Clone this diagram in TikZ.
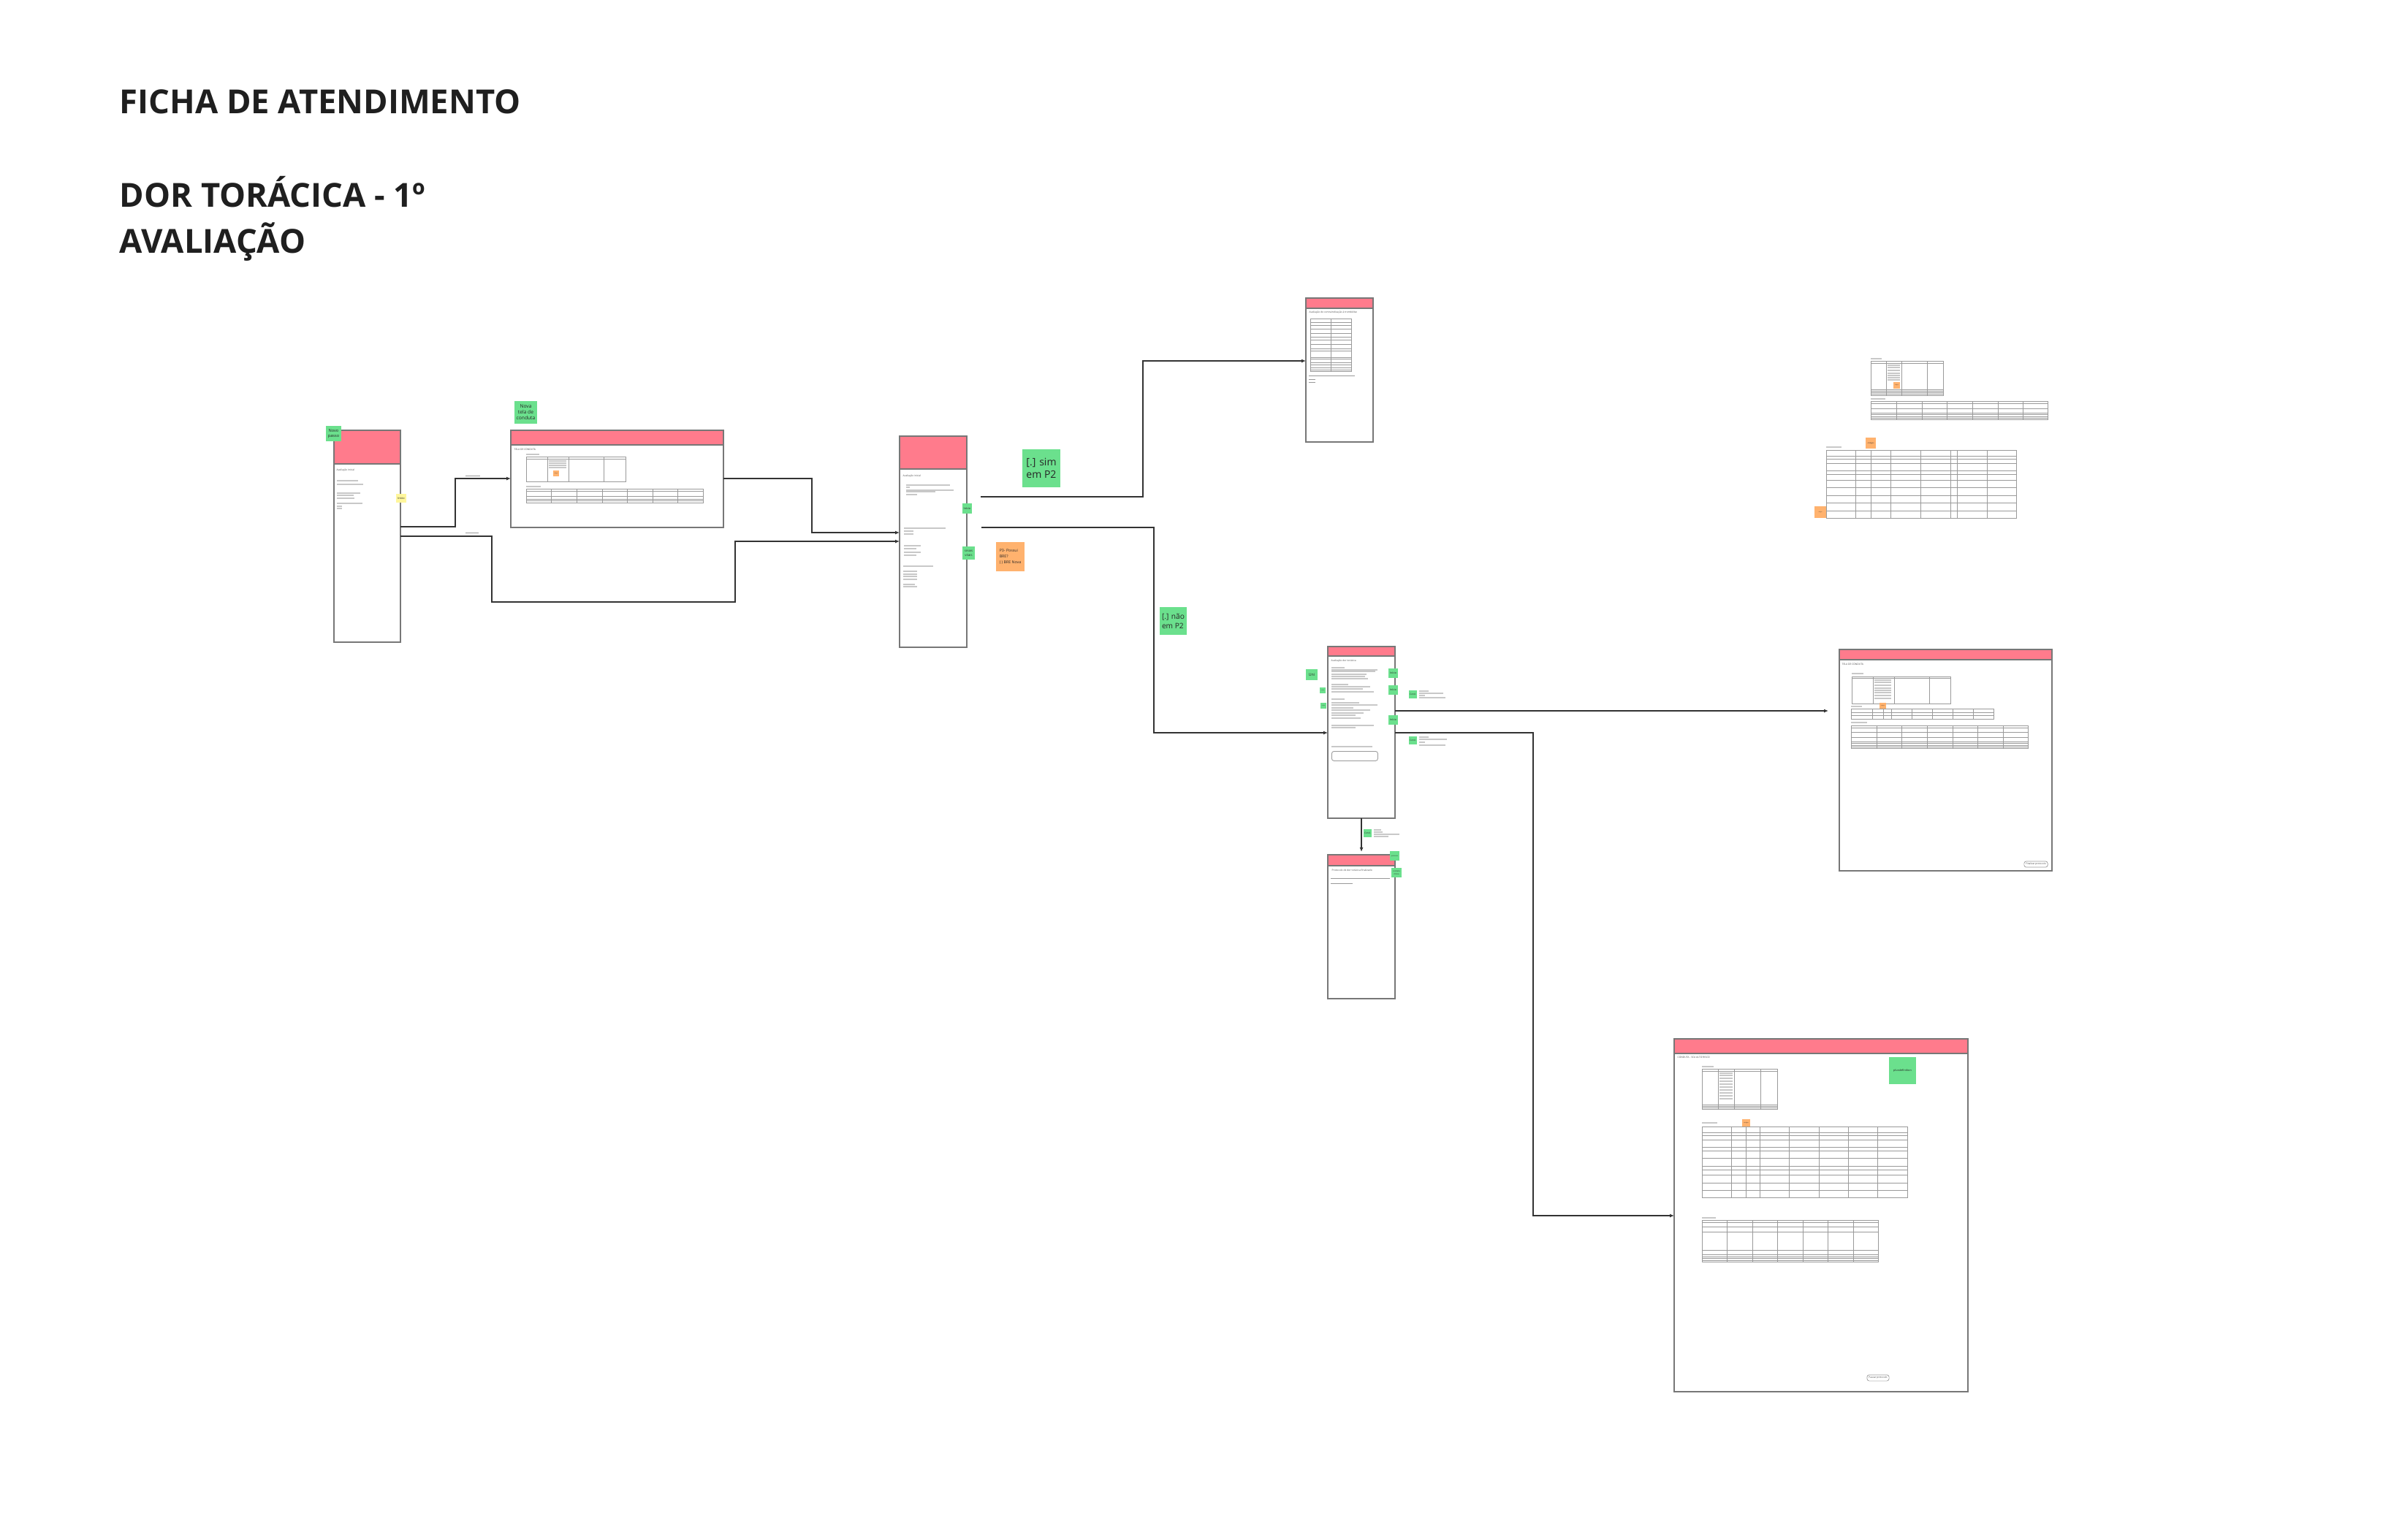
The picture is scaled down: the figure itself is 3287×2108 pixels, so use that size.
\documentclass[tikz,border=0pt]{standalone}
\usepackage{fontspec}
\setmainfont{Open Sans}
\usetikzlibrary{arrows.meta}
\definecolor{rosa}{HTML}{FF7B8C}
\definecolor{verde}{HTML}{6BE08D}
\definecolor{laranja}{HTML}{FFB26E}
\definecolor{amarelo}{HTML}{FFF69C}
\definecolor{borda}{HTML}{777777}
\definecolor{fio}{HTML}{333333}
\definecolor{cinza}{HTML}{9A9A9A}
\definecolor{claro}{HTML}{C8C8C8}
\newcommand{\tam}[2]{\fontsize{#1}{#2}\selectfont}
\tikzset{
	card/.style={draw=borda,line width=0.45pt,fill=white,anchor=north west,inner sep=0pt,outer sep=0pt},
	cabeca/.style={draw=borda,line width=0.45pt,fill=rosa},
	nota/.style={anchor=north west,inner sep=0pt,outer sep=0pt,align=center,text=black!85},
	seta/.style={draw=fio,line width=0.4pt,-{Latex[length=0.6mm,width=0.5mm]}},
	tab/.style={draw=cinza,line width=0.2pt},
	linha/.style={draw=claro,line width=0.3pt},
	linhaesc/.style={draw=black!40,line width=0.2pt},
	titulo/.style={anchor=base west,inner sep=0pt,font=\bfseries\tam{12.9}{16},text=black!88},
	rotulo/.style={anchor=north west,inner sep=0pt,font=\tam{0.95}{1.2},text=black!70},
	botao/.style={draw=cinza,line width=0.2pt,rounded corners=0.3mm,inner sep=0.25mm,font=\tam{0.9}{1.1},text=black!75}
}
\begin{document}
\begin{tikzpicture}[x=0.1mm,y=-0.1mm]
	\useasboundingbox[fill=white] (0,0) rectangle (3287,2108);
	% titulo
	\node[titulo] (ficha) at (163,155) {FICHA DE ATENDIMENTO};
	\node[titulo] (dor) at (163,283) {DOR TORÁCICA - 1º};
	\node[titulo] (aval) at (163,346) {AVALIAÇÃO};

	% avaliacao inicial (novo passo)
	\node[card,minimum width=9.1mm,minimum height=29mm] (avalInicial) at (457,589) {};
	\draw[cabeca] (avalInicial.north west) rectangle ++(91,46);
	\node[rotulo] (avalInicialTit) at (460,641) {Avaliação inicial};
	\foreach \y/\l in {658/490,663/497,675/493,678/484,682/485,689/496,693/468,696/468} \draw[linha] (461,\y) -- (\l,\y);
	\node[nota,fill=verde,minimum width=2.1mm,minimum height=2.1mm,font=\tam{1.6}{1.9}] (novoPasso) at (446,583) {Novo\\passo};
	\node[nota,fill=amarelo,minimum width=1.4mm,minimum height=1.2mm,font=\tam{1.1}{1.3}] (inicioA) at (542,676) {Início};

	% tela de conduta
	\node[card,minimum width=29.1mm,minimum height=13.3mm] (telaConduta) at (699,589) {};
	\draw[cabeca] (telaConduta.north west) rectangle ++(291,20);
	\node[rotulo] (telaCondutaTit) at (703,613) {TELA DE CONDUTA};
	\draw[linha] (720,622) -- (738,622);
	\draw[tab] (720,625) rectangle (856,659);
	\draw[tab] (720,628) -- (856,628);
	\foreach \c in {749,778,826} \draw[tab] (\c,625) -- (\c,659);
	\foreach \y in {631,634,637,640} \draw[linha] (751,\y) -- (775,\y);
	\draw[linha] (720,666) -- (740,666);
	\draw[tab] (720,669) rectangle (962,688);
	\foreach \r in {672,679,683,685} \draw[tab] (720,\r) -- (962,\r);
	\foreach \c in {754,789,824,858,893,927} \draw[tab] (\c,669) -- (\c,688);
	\node[nota,fill=laranja,minimum width=0.8mm,minimum height=0.8mm,font=\tam{0.4}{0.5}] (codB) at (757,644) {códigos};
	\node[nota,fill=verde,minimum width=3.1mm,minimum height=3.1mm,font=\tam{1.9}{2.3}] (novaTela) at (704,549) {Nova\\tela de\\conduta};

	% avaliacao inicial (P2)
	\node[card,minimum width=9.2mm,minimum height=28.9mm] (avalP2) at (1231,597) {};
	\draw[cabeca] (avalP2.north west) rectangle ++(92,45);
	\node[rotulo] (avalP2Tit) at (1235,649) {Avaliação inicial};
	\foreach \y/\l in {664/1300,667/1245,671/1305,673/1280,677/1255} \draw[linha] (1240,\y) -- (\l,\y);
	\foreach \y/\l in {723/1294,727/1250,731/1250} \draw[linha] (1237,\y) -- (\l,\y);
	\foreach \y/\l in {747/1260,751/1254,756/1260,760/1254} \draw[linha] (1237,\y) -- (\l,\y);
	\foreach \y/\l in {775/1277,782/1255,786/1255,789/1255,793/1255,800/1252,803/1255} \draw[linha] (1236,\y) -- (\l,\y);
	\node[nota,fill=verde,minimum width=1.3mm,minimum height=1.4mm,font=\tam{1.1}{1.3}] (inicioC) at (1317,689) {Início};
	\node[nota,fill=verde,minimum width=1.7mm,minimum height=1.8mm,font=\tam{1.2}{1.5}] (sinais) at (1317,748) {sinais\\vitais};
	\node[nota,fill=verde,minimum width=5.2mm,minimum height=5.2mm,font=\tam{4}{5},align=left] (simP2) at (1399,615) {[.] sim\\em P2};
	\node[nota,fill=laranja,minimum width=3.9mm,minimum height=4mm,font=\tam{1.5}{2.3},align=left] (p3) at (1363,742) {P3- Possui\\BRE?\\( ) BRE Nova};
	\node[nota,fill=verde,minimum width=3.7mm,minimum height=3.8mm,font=\tam{2.9}{3.8},align=left] (naoP2) at (1587,831) {[.] não\\em P2};

	% contraindicacao
	\node[card,minimum width=9.2mm,minimum height=19.7mm] (contraind) at (1787,408) {};
	\draw[cabeca] (contraind.north west) rectangle ++(92,14);
	\node[rotulo] (contraindTit) at (1791,425) {Avaliação de contraindicação à trombólise};
	\draw[tab] (1793,436) rectangle (1849,508);
	\draw[tab] (1821,436) -- (1821,508);
	\foreach \r in {441,445,450,456,461,465,471,477,480,489,491,496,499,503,506} \draw[tab] (1793,\r) -- (1849,\r);
	\foreach \y/\l in {514/1854,519/1800,523/1800} \draw[linhaesc] (1791,\y) -- (\l,\y);

	% avaliacao da dor
	\node[card,minimum width=9.2mm,minimum height=23.5mm] (avalDor) at (1817,885) {};
	\draw[cabeca] (avalDor.north west) rectangle ++(92,13);
	\node[rotulo] (avalDorTit) at (1821,902) {Avaliação dor torácica};
	\foreach \y/\l in {914/1840,917/1885,919/1882,923/1870,926/1868,929/1872} \draw[linha] (1822,\y) -- (\l,\y);
	\foreach \y/\l in {937/1845,940/1875,943/1865,947/1880} \draw[linha] (1822,\y) -- (\l,\y);
	\foreach \y/\l in {957/1840,962/1860,965/1885,969/1852,972/1875,976/1866,979/1855,983/1862} \draw[linha] (1822,\y) -- (\l,\y);
	\foreach \y/\l in {993/1880,996/1855,1022/1878} \draw[linha] (1822,\y) -- (\l,\y);
	\node[draw=cinza,line width=0.25pt,rounded corners=0.3mm,anchor=north west,minimum width=6.3mm,minimum height=1.3mm,inner sep=0pt] (campo) at (1822,1028) {};
	\node[nota,fill=verde,minimum width=1.6mm,minimum height=1.5mm,font=\tam{1.5}{1.8}] (uni) at (1787,916) {Uni};
	\node[nota,fill=verde,minimum width=0.8mm,minimum height=0.8mm,font=\tam{0.5}{0.6}] (notaE1) at (1806,941) {início};
	\node[nota,fill=verde,minimum width=0.8mm,minimum height=0.8mm,font=\tam{0.5}{0.6}] (notaE2) at (1807,962) {início};
	\foreach \y/\n in {915/notaD1,938/notaD2,979/notaD3} \node[nota,fill=verde,minimum width=1.3mm,minimum height=1.3mm,font=\tam{1}{1.2}] (\n) at (1900,\y) {Início};
	\node[nota,fill=verde,minimum width=1.1mm,minimum height=1.1mm,font=\tam{0.9}{1.1}] (concl1) at (1928,945) {Concl.};
	\node[nota,fill=verde,minimum width=1.1mm,minimum height=1.1mm,font=\tam{0.9}{1.1}] (concl2) at (1928,1008) {Concl.};
	\foreach \y/\l in {946/1955,949/1975,952/1950,955/1978} \draw[linha] (1942,\y) -- (\l,\y);
	\foreach \y/\l in {1009/1955,1012/1980,1016/1950,1020/1978} \draw[linha] (1942,\y) -- (\l,\y);

	% protocolo finalizado
	\node[card,minimum width=9.2mm,minimum height=19.7mm] (protFim) at (1817,1170) {};
	\draw[cabeca] (protFim.north west) rectangle ++(92,15);
	\node[rotulo] (protFimTit) at (1822,1189) {Protocolo de dor torácica finalizado};
	\draw[linhaesc] (1821,1202) -- (1902,1202);
	\draw[linhaesc] (1821,1209) -- (1851,1209);
	\node[nota,fill=verde,minimum width=1.3mm,minimum height=1.3mm,font=\tam{0.6}{0.8}] (notaH1) at (1902,1165) {protocolo};
	\node[nota,fill=verde,minimum width=1.4mm,minimum height=1.3mm,font=\tam{0.7}{0.9}] (notaH2) at (1904,1188) {conduta\\clínica};
	\node[nota,fill=verde,minimum width=1.1mm,minimum height=1.1mm,font=\tam{0.9}{1.1}] (concl3) at (1866,1135) {Concl.};
	\foreach \y/\l in {1136/1890,1139/1892,1142/1915,1145/1900} \draw[linha] (1880,\y) -- (\l,\y);

	% tela de conduta 2
	\node[card,minimum width=29.1mm,minimum height=30.3mm] (telaConduta2) at (2517,889) {};
	\draw[cabeca] (telaConduta2.north west) rectangle ++(291,14);
	\node[rotulo] (telaConduta2Tit) at (2520,907) {TELA DE CONDUTA};
	\draw[linha] (2534,922) -- (2550,922);
	\draw[tab] (2534,926) rectangle (2669,963);
	\draw[tab] (2534,928) -- (2669,928);
	\foreach \c in {2563,2592,2640} \draw[tab] (\c,926) -- (\c,963);
	\foreach \y in {931,934,938,942,945,948,952,956} \draw[linha] (2565,\y) -- (2588,\y);
	\draw[linha] (2533,967) -- (2548,967);
	\draw[tab] (2533,970) rectangle (2728,984);
	\foreach \r in {975,979} \draw[tab] (2533,\r) -- (2728,\r);
	\foreach \c in {2562,2577,2588,2616,2644,2672,2700} \draw[tab] (\c,970) -- (\c,984);
	\draw[linha] (2533,989) -- (2555,989);
	\draw[tab] (2533,993) rectangle (2775,1024);
	\foreach \r in {996,1002,1009,1015,1017,1020,1022} \draw[tab] (2533,\r) -- (2775,\r);
	\foreach \c in {2568,2602,2637,2672,2706,2741} \draw[tab] (\c,993) -- (\c,1024);
	\node[nota,fill=laranja,minimum width=0.9mm,minimum height=0.8mm,font=\tam{0.4}{0.5}] (codF) at (2572,962) {códigos};
	\node[botao] (finalizar) at (2786,1183) {Finalizar protocolo};

	% conduta SCA alto risco
	\node[card,minimum width=40.2mm,minimum height=48.3mm] (condutaSCA) at (2291,1422) {};
	\draw[cabeca] (condutaSCA.north west) rectangle ++(402,20);
	\node[rotulo] (condutaSCATit) at (2295,1445) {CONDUTA - SCA ALTO RISCO};
	\draw[linha] (2329,1460) -- (2345,1460);
	\draw[tab] (2329,1463) rectangle (2432,1518);
	\foreach \r in {1466,1512,1514,1516} \draw[tab] (2329,\r) -- (2432,\r);
	\foreach \c in {2351,2373,2409} \draw[tab] (\c,1463) -- (\c,1518);
	\foreach \y in {1469,1472,1476,1480,1484,1488,1492,1496,1500,1504} \draw[linha] (2353,\y) -- (2371,\y);
	\draw[linha] (2329,1537) -- (2350,1537);
	\draw[tab] (2329,1542) rectangle (2610,1639);
	\foreach \r in {1550,1554,1560,1570,1575,1585,1596,1601,1608,1619,1629} \draw[tab] (2329,\r) -- (2610,\r);
	\foreach \c in {2369,2389,2408,2448,2489,2529,2569} \draw[tab] (\c,1542) -- (\c,1639);
	\draw[linha] (2329,1667) -- (2348,1667);
	\draw[tab] (2329,1670) rectangle (2570,1727);
	\foreach \r in {1673,1679,1686,1711,1717,1720,1722,1725} \draw[tab] (2329,\r) -- (2570,\r);
	\foreach \c in {2363,2398,2432,2467,2501,2536} \draw[tab] (\c,1670) -- (\c,1727);
	\node[nota,fill=laranja,minimum width=1.1mm,minimum height=1mm,font=\tam{0.5}{0.6}] (codG) at (2384,1532) {códigos};
	\node[nota,fill=verde,minimum width=3.7mm,minimum height=3.7mm,font=\tam{1.1}{1.3}] (plusdef) at (2585,1447) {plusdefinition};
	\node[botao] (pausar) at (2570,1886) {Pausar protocolo};

	% tabelas soltas (topo direita)
	\draw[linha] (2560,491) -- (2575,491);
	\draw[tab] (2560,494) rectangle (2659,541);
	\foreach \r in {497,533,535,537,539} \draw[tab] (2560,\r) -- (2659,\r);
	\foreach \c in {2581,2602,2637} \draw[tab] (\c,494) -- (\c,541);
	\foreach \y in {500,503,507,511,514,517,520} \draw[linha] (2583,\y) -- (2600,\y);
	\node[nota,fill=laranja,minimum width=0.9mm,minimum height=0.9mm,font=\tam{0.4}{0.5}] (codT1) at (2591,523) {códigos};
	\draw[linha] (2560,546) -- (2580,546);
	\draw[tab] (2560,549) rectangle (2802,574);
	\foreach \r in {552,559,565,567,570,572} \draw[tab] (2560,\r) -- (2802,\r);
	\foreach \c in {2595,2630,2664,2699,2734,2768} \draw[tab] (\c,549) -- (\c,574);
	\draw[linha] (2499,612) -- (2520,612);
	\draw[tab] (2499,616) rectangle (2759,709);
	\foreach \r in {624,628,634,644,649,657,667,678,688,699} \draw[tab] (2499,\r) -- (2759,\r);
	\foreach \c in {2539,2560,2587,2628,2669,2678,2719} \draw[tab] (\c,616) -- (\c,709);
	\node[nota,fill=laranja,minimum width=1.4mm,minimum height=1.5mm,font=\tam{0.7}{0.9}] (codigos) at (2553,599) {códigos};
	\node[nota,fill=laranja,minimum width=1.6mm,minimum height=1.6mm,font=\tam{0.4}{0.5}] (codT3) at (2483,693) {códigos};

	% ligacoes
	\coordinate (saidaSim) at (1342,680);
	\coordinate (saidaNao) at (1343,722);
	\draw[seta] (avalInicial.east |- 0,721) -| (623,655) -- (telaConduta.west |- 0,655);
	\draw[seta] (avalInicial.east |- 0,734) -| (673,824) -| (1006,741) -- (avalP2.west |- 0,741);
	\draw[seta] (telaConduta.east |- 0,655) -| (1111,729) -- (avalP2.west |- 0,729);
	\draw[seta] (saidaSim) -| (1564,494) -- (contraind.west |- 0,494);
	\draw[seta] (saidaNao) -| (1579,1003) -- (avalDor.west |- 0,1003);
	\draw[seta,shorten >=1.5mm] (avalDor.east |- 0,973) -- (telaConduta2.west |- 0,973);
	\draw[seta] (avalDor.east |- 0,1003) -| (2098,1664) -- (condutaSCA.west |- 0,1664);
	\draw[seta,shorten >=0.4mm] (avalDor.south -| 1863,0) -- (protFim.north -| 1863,0);
	\draw[linhaesc] (637,651) -- (657,651); % rotulo ligacao
	\draw[linhaesc] (637,729) -- (655,729); % rotulo ligacao
\end{tikzpicture}
\end{document}
